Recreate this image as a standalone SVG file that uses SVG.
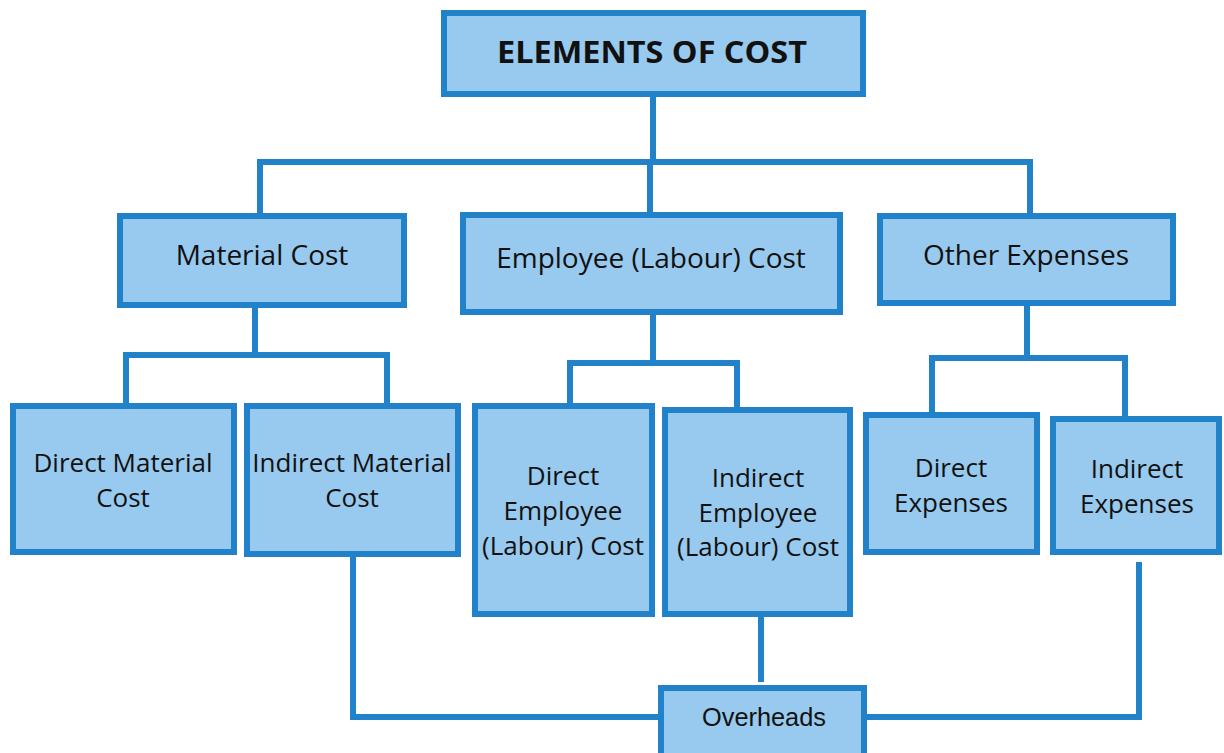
<svg xmlns="http://www.w3.org/2000/svg" width="1224" height="753" viewBox="0 0 1224 753">
<style>
.box{fill:#97CAEE;stroke:#2181C9;stroke-width:6}
.ln{fill:none;stroke:#2181C9;stroke-width:6;stroke-linejoin:miter}
.t{font-family:"Open Sans","Noto Sans",sans-serif;fill:#111;text-anchor:middle}
.tl{font-size:28px}
.ts{font-size:26px}
.h{font-size:31px;font-weight:bold}
.o{font-family:"Liberation Sans",Arial,sans-serif;font-size:26px;fill:#111;text-anchor:middle}
</style>
<rect width="1224" height="753" fill="#fff"/>
<g id="connectors">
<path class="ln" d="M653,97 V162 M260,213 V162 H1030 V213 M650,162 V212"/>
<path class="ln" d="M255,308 V355 M126,403 V355 H387 V403"/>
<path class="ln" d="M653,315 V363 M570,403 V363 H737 V407"/>
<path class="ln" d="M1027,306 V358 M932,412 V358 H1125 V416"/>
<path class="ln" d="M353,557 V717 H658"/>
<path class="ln" d="M761,617 V682"/>
<path class="ln" d="M1139,562 V717 H867"/>
</g>
<g id="elements-of-cost"><rect class="box" x="444" y="13" width="419" height="81"/><text class="t h" x="652" y="63" textLength="310" lengthAdjust="spacingAndGlyphs">ELEMENTS OF COST</text></g>
<g id="material-cost"><rect class="box" x="120" y="216" width="284" height="89"/><text class="t tl" x="262" y="265">Material Cost</text></g>
<g id="employee-cost"><rect class="box" x="463" y="215" width="377" height="97"/><text class="t tl" x="651" y="268">Employee (Labour) Cost</text></g>
<g id="other-expenses"><rect class="box" x="880" y="216" width="293" height="87"/><text class="t tl" x="1026" y="265">Other Expenses</text></g>
<g id="direct-material"><rect class="box" x="13" y="406" width="221" height="146"/><text class="t ts" x="123" y="472">Direct Material</text><text class="t ts" x="123" y="507">Cost</text></g>
<g id="indirect-material"><rect class="box" x="247" y="406" width="211" height="148"/><text class="t ts" x="352" y="472">Indirect Material</text><text class="t ts" x="352" y="507">Cost</text></g>
<g id="direct-employee"><rect class="box" x="475" y="406" width="177" height="208"/><text class="t ts" x="563" y="485">Direct</text><text class="t ts" x="563" y="520">Employee</text><text class="t ts" x="563" y="555">(Labour) Cost</text></g>
<g id="indirect-employee"><rect class="box" x="665" y="410" width="185" height="204"/><text class="t ts" x="758" y="487">Indirect</text><text class="t ts" x="758" y="522">Employee</text><text class="t ts" x="758" y="556">(Labour) Cost</text></g>
<g id="direct-expenses"><rect class="box" x="866" y="415" width="171" height="137"/><text class="t ts" x="951" y="477">Direct</text><text class="t ts" x="951" y="512">Expenses</text></g>
<g id="indirect-expenses"><rect class="box" x="1053" y="419" width="166" height="133"/><text class="t ts" x="1137" y="478">Indirect</text><text class="t ts" x="1137" y="513">Expenses</text></g>
<g id="overheads"><rect class="box" x="661" y="688" width="203" height="80"/><text class="o" x="764" y="726" textLength="124" lengthAdjust="spacingAndGlyphs">Overheads</text></g>
</svg>
